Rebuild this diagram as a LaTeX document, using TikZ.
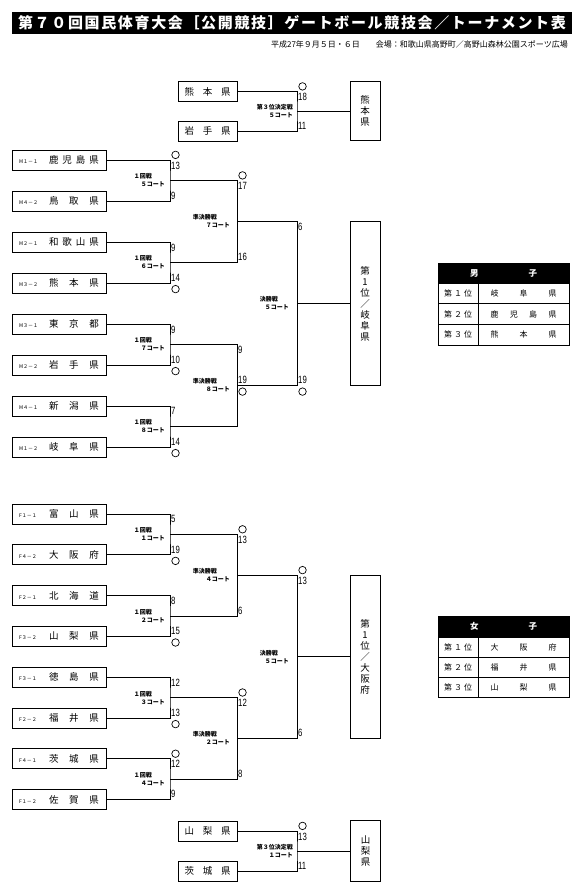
\documentclass[tikz,border=0pt]{standalone}
\usepackage{fontspec}
\setmainfont{Noto Sans CJK JP}
\newfontfamily\titlefont[LetterSpace=11]{Noto Sans CJK JP}
\newfontfamily\scorefont[FakeStretch=0.74]{Liberation Sans}
\usetikzlibrary{positioning}
\newcommand{\spread}[2]{\makebox[#1][s]{#2}}
\newcommand{\teamtext}[2]{\makebox[30pt][l]{\fontsize{5}{5}\selectfont #1}\spread{50pt}{#2}\hspace{6pt}}
\begin{document}
\begin{tikzpicture}[x=1pt, y=-1pt,
    teambox/.style={draw, line width=1pt, minimum width=94pt, minimum height=20pt, inner sep=0pt, font=\fontsize{9.5}{9.5}\selectfont},
    thirdbox/.style={teambox, minimum width=59pt},
    winbox/.style={draw, line width=1pt, minimum width=30pt, inner sep=0pt, align=center, font=\fontsize{9.5}{11}\selectfont},
    bline/.style={line width=0.8pt},
    sbelow/.style={anchor=north west, inner sep=0pt, font=\scorefont\fontsize{10.5}{10.5}\selectfont},
    sabove/.style={sbelow, anchor=south west},
    wmark/.style={circle, draw, line width=0.7pt, minimum size=7.5pt, inner sep=0pt},
    mlabel/.style={anchor=east, align=right, inner sep=0pt, font=\bfseries\fontsize{6}{8}\selectfont},
    thead/.style={draw, fill=black, text=white, line width=1pt, minimum width=131pt, inner sep=0pt, font=\bfseries\fontsize{8.5}{8.5}\selectfont},
    rankcell/.style={draw, line width=1pt, minimum width=40pt, inner sep=0pt, font=\fontsize{8}{8}\selectfont},
    namecell/.style={rankcell, minimum width=91pt}]
\useasboundingbox (0,0) rectangle (584,891);

% heading
\node[fill=black, text=white, minimum width=560pt, minimum height=22pt, inner sep=0pt, font=\titlefont\bfseries\fontsize{15}{15}\selectfont] (title) at (292,23) {第７０回国民体育大会［公開競技］ゲートボール競技会／トーナメント表};
\node[anchor=east, inner sep=0pt, font=\fontsize{8}{8}\selectfont] (date) at (568,44) {平成27年９月５日・６日\hspace{16pt}会場：和歌山県高野町／高野山森林公園スポーツ広場};

% men, 3rd place
\node[thirdbox] (t1) at (207.5,91.5) {\spread{46pt}{熊\hfill 本\hfill 県}};
\node[thirdbox] (t2) at (207.5,131) {\spread{46pt}{岩\hfill 手\hfill 県}};
\coordinate (tj) at (297,111.25);
\node[winbox, minimum height=59pt] (twin) at (365,111.25) {熊\\本\\県};
\draw[bline] (t1.east) -| (tj) |- (t2.east);
\draw[bline] (tj) -- (twin);
\node[sbelow] (t1s) at (298,93) {18};
\node[wmark, above=2.5pt of t1s] (t1w) {};
\node[sabove] (t2s) at (298,129.5) {11};
\node[mlabel] (tl) at (293,111.25) {第３位決定戦\\５コート};

% men
\node[teambox] (m11) at (59,160) {\teamtext{M１－１}{鹿\hfill 児\hfill 島\hfill 県}};
\node[teambox] (m42) at (59,201) {\teamtext{M４－２}{鳥\hfill 取\hfill 県}};
\node[teambox] (m21) at (59,242) {\teamtext{M２－１}{和\hfill 歌\hfill 山\hfill 県}};
\node[teambox] (m32) at (59,283) {\teamtext{M３－２}{熊\hfill 本\hfill 県}};
\node[teambox] (m31) at (59,324) {\teamtext{M３－１}{東\hfill 京\hfill 都}};
\node[teambox] (m22) at (59,365) {\teamtext{M２－２}{岩\hfill 手\hfill 県}};
\node[teambox] (m41) at (59,406) {\teamtext{M４－１}{新\hfill 潟\hfill 県}};
\node[teambox] (m12) at (59,447) {\teamtext{M１－２}{岐\hfill 阜\hfill 県}};

\coordinate (mj1) at (170,180.5);
\coordinate (mj2) at (170,262.5);
\coordinate (mj3) at (170,344.5);
\coordinate (mj4) at (170,426.5);
\coordinate (ms1) at (237,221.5);
\coordinate (ms2) at (237,385.5);
\coordinate (mfin) at (297,303.5);
\node[winbox, minimum height=164pt] (mwin) at (365,303.5) {第\\1\\位\\／\\岐\\阜\\県};

\draw[bline] (m11.east) -| (mj1) |- (m42.east);
\draw[bline] (m21.east) -| (mj2) |- (m32.east);
\draw[bline] (m31.east) -| (mj3) |- (m22.east);
\draw[bline] (m41.east) -| (mj4) |- (m12.east);
\draw[bline] (mj1) -| (ms1);
\draw[bline] (mj2) -| (ms1);
\draw[bline] (mj3) -| (ms2);
\draw[bline] (mj4) -| (ms2);
\draw[bline] (ms1) -| (mfin);
\draw[bline] (ms2) -| (mfin);
\draw[bline] (mfin) -- (mwin);

\node[sbelow] (m11s) at (171,161.5) {13};
\node[wmark, above=2.5pt of m11s] (m11w) {};
\node[sabove] (m42s) at (171,199.5) {9};
\node[sbelow] (m21s) at (171,243.5) {9};
\node[sabove] (m32s) at (171,281.5) {14};
\node[wmark, below=3.5pt of m32s] (m32w) {};
\node[sbelow] (m31s) at (171,325.5) {9};
\node[sabove] (m22s) at (171,363.5) {10};
\node[wmark, below=3.5pt of m22s] (m22w) {};
\node[sbelow] (m41s) at (171,407.5) {7};
\node[sabove] (m12s) at (171,445.5) {14};
\node[wmark, below=3.5pt of m12s] (m12w) {};
\node[sbelow] (ms1a) at (238,182) {17};
\node[wmark, above=2.5pt of ms1a] (ms1w) {};
\node[sabove] (ms1b) at (238,261) {16};
\node[sbelow] (ms2a) at (238,346) {9};
\node[sabove] (ms2b) at (238,384) {19};
\node[wmark, below=3.5pt of ms2b] (ms2w) {};
\node[sbelow] (mfa) at (298,223) {6};
\node[sabove] (mfb) at (298,384) {19};
\node[wmark, below=3.5pt of mfb] (mfw) {};

\node[mlabel] (ml1) at (165,180.5) {１回戦\hspace*{13pt}\\５コート};
\node[mlabel] (ml2) at (165,262.5) {１回戦\hspace*{13pt}\\６コート};
\node[mlabel] (ml3) at (165,344.5) {１回戦\hspace*{13pt}\\７コート};
\node[mlabel] (ml4) at (165,426.5) {１回戦\hspace*{13pt}\\８コート};
\node[mlabel] (ml5) at (230,221.5) {準決勝戦\hspace*{13pt}\\７コート};
\node[mlabel] (ml6) at (230,385.5) {準決勝戦\hspace*{13pt}\\８コート};
\node[mlabel] (ml7) at (289,303.5) {決勝戦\hspace*{11pt}\\５コート};

% men, results
\node[thead, minimum height=20pt] (mhead) at (503.5,273) {男\hspace{50pt}子};
\node[rankcell, minimum height=20.7pt] (mr1) at (458,293.35) {\spread{28pt}{第\hfill １\hfill 位}};
\node[namecell, minimum height=20.7pt] (mn1) at (523.5,293.35) {\spread{66pt}{岐\hfill 阜\hfill 県}};
\node[rankcell, minimum height=20.7pt] (mr2) at (458,314.05) {\spread{28pt}{第\hfill ２\hfill 位}};
\node[namecell, minimum height=20.7pt] (mn2) at (523.5,314.05) {\spread{66pt}{鹿\hfill 児\hfill 島\hfill 県}};
\node[rankcell, minimum height=20.7pt] (mr3) at (458,334.75) {\spread{28pt}{第\hfill ３\hfill 位}};
\node[namecell, minimum height=20.7pt] (mn3) at (523.5,334.75) {\spread{66pt}{熊\hfill 本\hfill 県}};

% women
\node[teambox] (f11) at (59,514) {\teamtext{F１－１}{富\hfill 山\hfill 県}};
\node[teambox] (f42) at (59,554.8) {\teamtext{F４－２}{大\hfill 阪\hfill 府}};
\node[teambox] (f21) at (59,595.6) {\teamtext{F２－１}{北\hfill 海\hfill 道}};
\node[teambox] (f32) at (59,636.4) {\teamtext{F３－２}{山\hfill 梨\hfill 県}};
\node[teambox] (f31) at (59,677.2) {\teamtext{F３－１}{徳\hfill 島\hfill 県}};
\node[teambox] (f22) at (59,718) {\teamtext{F２－２}{福\hfill 井\hfill 県}};
\node[teambox] (f41) at (59,758.8) {\teamtext{F４－１}{茨\hfill 城\hfill 県}};
\node[teambox] (f12) at (59,799.6) {\teamtext{F１－２}{佐\hfill 賀\hfill 県}};

\coordinate (fj1) at (170,534.4);
\coordinate (fj2) at (170,616);
\coordinate (fj3) at (170,697.6);
\coordinate (fj4) at (170,779.2);
\coordinate (fs1) at (237,575.2);
\coordinate (fs2) at (237,738.4);
\coordinate (ffin) at (297,656.8);
\node[winbox, minimum height=163.2pt] (fwin) at (365,656.8) {第\\1\\位\\／\\大\\阪\\府};

\draw[bline] (f11.east) -| (fj1) |- (f42.east);
\draw[bline] (f21.east) -| (fj2) |- (f32.east);
\draw[bline] (f31.east) -| (fj3) |- (f22.east);
\draw[bline] (f41.east) -| (fj4) |- (f12.east);
\draw[bline] (fj1) -| (fs1);
\draw[bline] (fj2) -| (fs1);
\draw[bline] (fj3) -| (fs2);
\draw[bline] (fj4) -| (fs2);
\draw[bline] (fs1) -| (ffin);
\draw[bline] (fs2) -| (ffin);
\draw[bline] (ffin) -- (fwin);

\node[sbelow] (f11s) at (171,515.5) {5};
\node[sabove] (f42s) at (171,553.3) {19};
\node[wmark, below=3.5pt of f42s] (f42w) {};
\node[sbelow] (f21s) at (171,597.1) {8};
\node[sabove] (f32s) at (171,634.9) {15};
\node[wmark, below=3.5pt of f32s] (f32w) {};
\node[sbelow] (f31s) at (171,678.7) {12};
\node[sabove] (f22s) at (171,716.5) {13};
\node[wmark, below=3.5pt of f22s] (f22w) {};
\node[sbelow] (f41s) at (171,760.3) {12};
\node[wmark, above=2.5pt of f41s] (f41w) {};
\node[sabove] (f12s) at (171,798.1) {9};
\node[sbelow] (fs1a) at (238,535.9) {13};
\node[wmark, above=2.5pt of fs1a] (fs1w) {};
\node[sabove] (fs1b) at (238,614.5) {6};
\node[sbelow] (fs2a) at (238,699.1) {12};
\node[wmark, above=2.5pt of fs2a] (fs2w) {};
\node[sabove] (fs2b) at (238,777.7) {8};
\node[sbelow] (ffa) at (298,576.7) {13};
\node[wmark, above=2.5pt of ffa] (ffw) {};
\node[sabove] (ffb) at (298,736.9) {6};

\node[mlabel] (fl1) at (165,534.4) {１回戦\hspace*{13pt}\\１コート};
\node[mlabel] (fl2) at (165,616) {１回戦\hspace*{13pt}\\２コート};
\node[mlabel] (fl3) at (165,697.6) {１回戦\hspace*{13pt}\\３コート};
\node[mlabel] (fl4) at (165,779.2) {１回戦\hspace*{13pt}\\４コート};
\node[mlabel] (fl5) at (230,575.2) {準決勝戦\hspace*{13pt}\\４コート};
\node[mlabel] (fl6) at (230,738.4) {準決勝戦\hspace*{13pt}\\２コート};
\node[mlabel] (fl7) at (289,656.8) {決勝戦\hspace*{11pt}\\５コート};

% women, results
\node[thead, minimum height=21pt] (fhead) at (503.5,626.5) {女\hspace{50pt}子};
\node[rankcell, minimum height=20.3pt] (fr1) at (458,647.15) {\spread{28pt}{第\hfill １\hfill 位}};
\node[namecell, minimum height=20.3pt] (fn1) at (523.5,647.15) {\spread{66pt}{大\hfill 阪\hfill 府}};
\node[rankcell, minimum height=20.3pt] (fr2) at (458,667.45) {\spread{28pt}{第\hfill ２\hfill 位}};
\node[namecell, minimum height=20.3pt] (fn2) at (523.5,667.45) {\spread{66pt}{福\hfill 井\hfill 県}};
\node[rankcell, minimum height=20.3pt] (fr3) at (458,687.75) {\spread{28pt}{第\hfill ３\hfill 位}};
\node[namecell, minimum height=20.3pt] (fn3) at (523.5,687.75) {\spread{66pt}{山\hfill 梨\hfill 県}};

% women, 3rd place
\node[thirdbox] (b1) at (207.5,831) {\spread{46pt}{山\hfill 梨\hfill 県}};
\node[thirdbox] (b2) at (207.5,871) {\spread{46pt}{茨\hfill 城\hfill 県}};
\coordinate (bj) at (297,851);
\node[winbox, minimum height=61pt] (bwin) at (365.5,851) {山\\梨\\県};
\draw[bline] (b1.east) -| (bj) |- (b2.east);
\draw[bline] (bj) -- (bwin);
\node[sbelow] (b1s) at (298,832.5) {13};
\node[wmark, above=2.5pt of b1s] (b1w) {};
\node[sabove] (b2s) at (298,869.5) {11};
\node[mlabel] (bl) at (293,851) {第３位決定戦\\１コート};
\end{tikzpicture}
\end{document}
